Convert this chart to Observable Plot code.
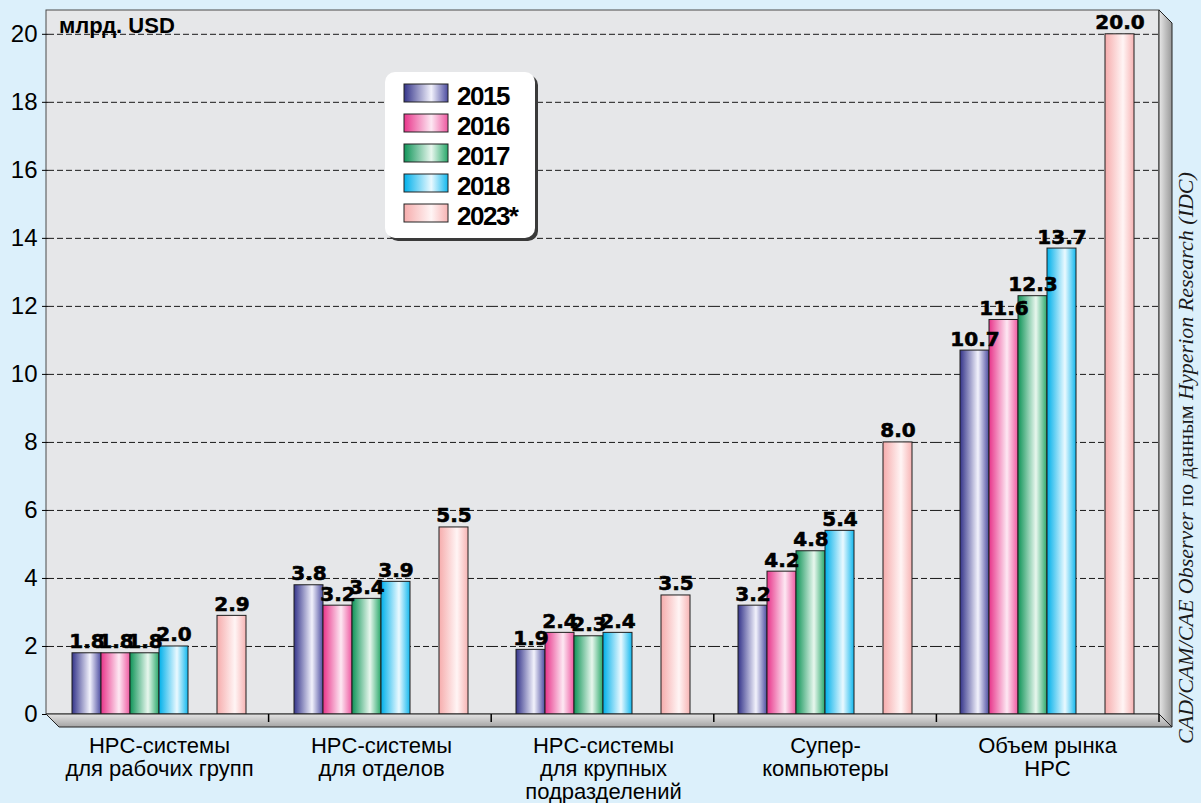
<!DOCTYPE html>
<html><head><meta charset="utf-8">
<script src="https://cdn.jsdelivr.net/npm/d3@7"></script>
<script src="https://cdn.jsdelivr.net/npm/@observablehq/plot@0.6"></script>
<style>
html,body{margin:0;padding:0;background:#dcf0fb;}
#chart{width:1201px;height:803px;}
</style></head><body><div id="chart"></div>
<script>
// ---- data ----
const groups = [
  "HPC-системы\nдля рабочих групп",
  "HPC-системы\nдля отделов",
  "HPC-системы\nдля крупных\nподразделений",
  "Супер-\nкомпьютеры",
  "Объем рынка\nHPC"
];
const years = ["2015", "2016", "2017", "2018", "2023*"];
const slots = ["2015", "2016", "2017", "2018", "gap", "2023*"];
const v2015 = [1.8, 3.8, 1.9, 3.2, 10.7];
const v2016 = [1.8, 3.2, 2.4, 4.2, 11.6];
const v2017 = [1.8, 3.4, 2.3, 4.8, 12.3];
const v2018 = [2.0, 3.9, 2.4, 5.4, 13.7];
const v2023 = [2.9, 5.5, 3.5, 8.0, 20.0];
const yTicks = [0, 2, 4, 6, 8, 10, 12, 14, 16, 18, 20];
const unitLabel = "млрд. USD";
const creditParts = [
  {t: "CAD/CAM/CAE Observer", italic: true},
  {t: " по данным ", italic: false},
  {t: "Hyperion Research (IDC)", italic: true}
];

// ---- styling ----
const gradStops = [
  ["#34348a", "#f2f2fc", "#4c4ca0"],
  ["#e8348a", "#fde8f3", "#ee58a0"],
  ["#0f9458", "#e8f7ee", "#28a86a"],
  ["#00b0ea", "#eaf9ff", "#12b8ee"],
  ["#f6acac", "#fff5f5", "#f7b4b4"]
];
const gradIds = ["g2015", "g2016", "g2017", "g2018", "g2023"];

const seriesValues = [v2015, v2016, v2017, v2018, v2023];
const data = [];
groups.forEach((g, gi) => years.forEach((y, yi) =>
  data.push({group: g, year: y, yi, value: seriesValues[yi][gi]})));

const W = 1201, H = 803, mL = 46, mR = 42, mT = 10, mB = 89;

const plot = Plot.plot({
  width: W, height: H,
  marginLeft: mL, marginRight: mR, marginTop: mT, marginBottom: mB,
  style: {background: "transparent", fontFamily: "'Liberation Sans', Arial, sans-serif", color: "#000", overflow: "visible"},
  fx: {domain: groups, padding: 0, axis: null},
  x: {domain: slots, paddingInner: 0, paddingOuter: 0.72, axis: null},
  y: {domain: [0, 20.7], axis: null},
  color: {type: "identity"},
  marks: [
    Plot.gridY(yTicks.filter(t => t > 0), {stroke: "#1a1a1a", strokeOpacity: 1, strokeWidth: 1, strokeDasharray: "6,3"}),
    Plot.barY(data, {fx: "group", x: "year", y: "value", fill: d => `url(#${gradIds[d.yi]})`, stroke: "#1e1e1e", strokeWidth: 1}),
    Plot.text(data, {fx: "group", x: "year", y: "value", text: d => d3.format(".1f")(d.value),
      lineAnchor: "bottom", dy: -5, fontSize: 20, fontWeight: "bold", fontFamily: "'DejaVu Sans', sans-serif",
      fill: "#000", stroke: "#000", strokeWidth: 0.6}),
    Plot.text(groups, {fx: d => d, text: d => d, frameAnchor: "bottom", lineAnchor: "top", dy: 22,
      fontSize: 22, lineHeight: 1.05, fill: "#000"}),
    Plot.axisY(yTicks, {tickSize: 6, tickPadding: 5, fontSize: 24, label: null})
  ]
});

document.getElementById("chart").appendChild(plot);

// ---- decorations ----
const svg = d3.select(plot);
const fLeft = mL, fRight = W - mR, fTop = mT, fBottom = H - mB, depth = 13;

// frame background
const bg = document.createElementNS("http://www.w3.org/2000/svg", "rect");
plot.insertBefore(bg, plot.firstChild);
d3.select(bg).attr("x", fLeft).attr("y", fTop).attr("width", fRight - fLeft).attr("height", fBottom - fTop)
  .attr("fill", "#e6e7e9").attr("stroke", "#4a4a4a").attr("stroke-width", 1);

const defs = svg.insert("defs", ":first-child");
gradStops.forEach((s, i) => {
  const g = defs.append("linearGradient").attr("id", gradIds[i]).attr("x1", 0).attr("x2", 1).attr("y1", 0).attr("y2", 0);
  g.append("stop").attr("offset", "0%").attr("stop-color", s[0]);
  g.append("stop").attr("offset", "62%").attr("stop-color", s[1]);
  g.append("stop").attr("offset", "100%").attr("stop-color", s[2]);
});
const gf = defs.append("linearGradient").attr("id", "floorGrad").attr("x1", 0).attr("x2", 0).attr("y1", 0).attr("y2", 1);
gf.append("stop").attr("offset", "0%").attr("stop-color", "#e4e4e4");
gf.append("stop").attr("offset", "100%").attr("stop-color", "#a4a4a4");
const gs = defs.append("linearGradient").attr("id", "sideGrad").attr("x1", 0).attr("x2", 1).attr("y1", 0).attr("y2", 0);
gs.append("stop").attr("offset", "0%").attr("stop-color", "#e8e8e8");
gs.append("stop").attr("offset", "100%").attr("stop-color", "#989898");

// floor and right side
svg.append("polygon")
  .attr("points", [[fLeft, fBottom], [fRight, fBottom], [fRight + depth, fBottom + depth], [fLeft + depth, fBottom + depth]].join(" "))
  .attr("fill", "url(#floorGrad)").attr("stroke", "#222").attr("stroke-width", 1);
svg.append("polygon")
  .attr("points", [[fRight, fTop], [fRight + depth, fTop + depth], [fRight + depth, fBottom + depth], [fRight, fBottom]].join(" "))
  .attr("fill", "url(#sideGrad)").attr("stroke", "#222").attr("stroke-width", 1);
const gw = (fRight - fLeft) / groups.length;
for (let i = 1; i <= groups.length; i++) {
  const x = fLeft + i * gw;
  svg.append("line").attr("x1", x).attr("x2", x).attr("y1", fBottom).attr("y2", fBottom + 8)
    .attr("stroke", "#000").attr("stroke-width", 1.5);
}

// unit label
svg.append("text").attr("x", 59).attr("y", 33).attr("text-anchor", "start").text(unitLabel)
  .attr("font-family", "'Liberation Sans', Arial, sans-serif").attr("font-weight", "bold").attr("font-size", 22).attr("fill", "#000");

// legend
const lg = svg.append("g").attr("text-anchor", "start");
lg.append("rect").attr("x", 388).attr("y", 75).attr("width", 150).attr("height", 166).attr("rx", 10).attr("fill", "#3a3a3a");
lg.append("rect").attr("x", 385).attr("y", 72).attr("width", 150).attr("height", 166).attr("rx", 10).attr("fill", "#fff");
years.forEach((y, i) => {
  lg.append("rect").attr("x", 404).attr("y", 84 + 30 * i).attr("width", 44).attr("height", 18)
    .attr("fill", `url(#${gradIds[i]})`).attr("stroke", "#222").attr("stroke-width", 1);
  lg.append("text").attr("x", 457).attr("y", 105 + 30 * i).text(y)
    .attr("font-family", "'Liberation Sans', Arial, sans-serif").attr("font-weight", "bold")
    .attr("font-size", 26).attr("letter-spacing", "-1.5px").attr("fill", "#000");
});

// credit (vertical)
const ct = svg.append("text").attr("transform", "translate(1193,458) rotate(-90)")
  .attr("text-anchor", "middle").attr("font-family", "'Liberation Serif', 'Times New Roman', serif")
  .attr("font-size", 22).attr("fill", "#1a1a1a");
creditParts.forEach(p => ct.append("tspan").attr("font-style", p.italic ? "italic" : "normal").text(p.t));
</script>
</body></html>
